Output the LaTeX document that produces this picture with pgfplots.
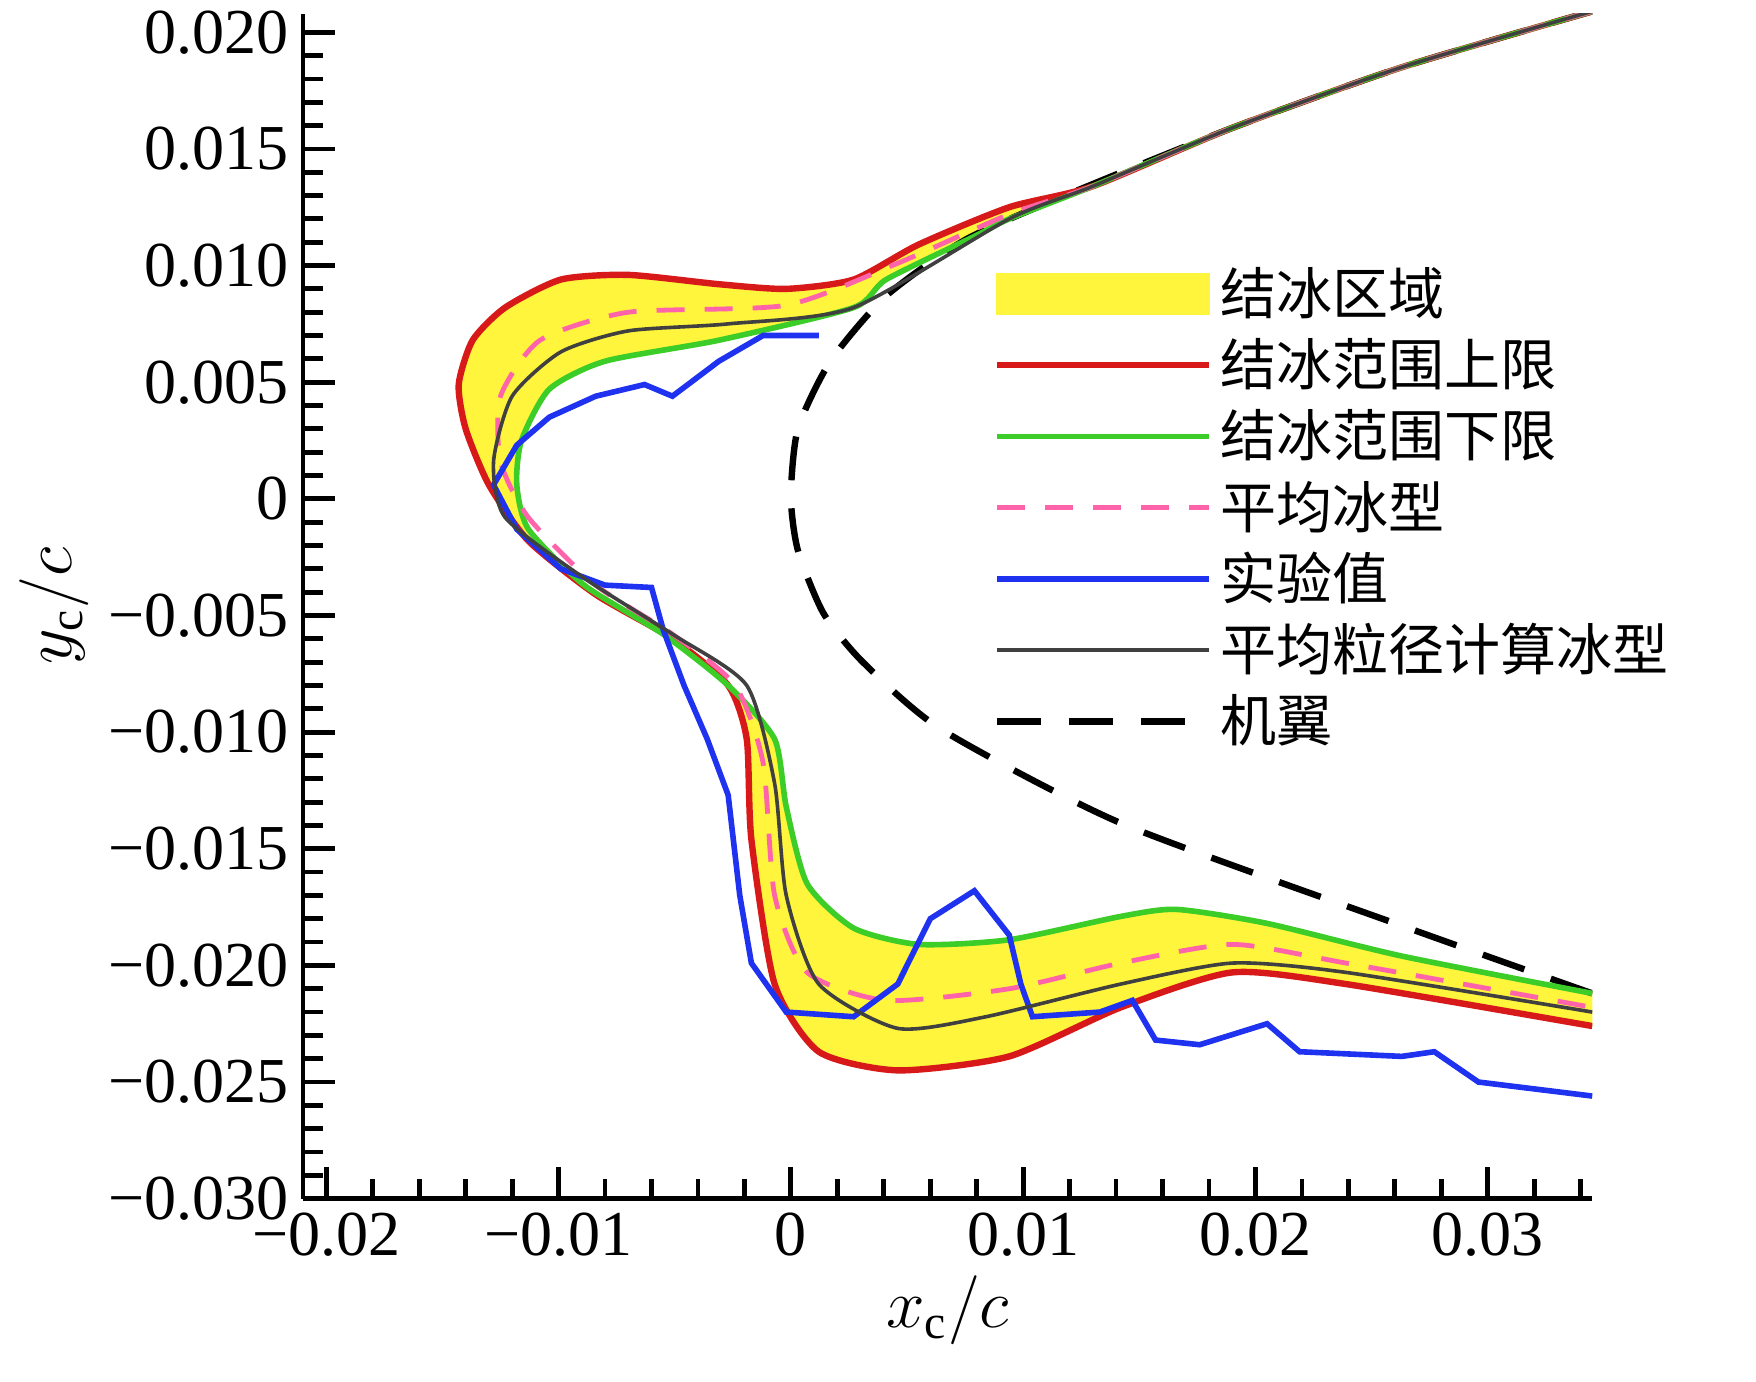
\documentclass[border=0pt]{standalone}
\usepackage{pgfplots}
\pgfplotsset{compat=1.18}
\usepgfplotslibrary{fillbetween}
\usepackage{fontspec}
\setmainfont{Liberation Serif}
\newfontfamily\cjk{Noto Sans CJK SC}
\definecolor{iceY}{RGB}{255,245,60}
\definecolor{upR}{RGB}{215,25,25}
\definecolor{loG}{RGB}{60,205,40}
\definecolor{meanP}{RGB}{255,100,170}
\definecolor{expB}{RGB}{30,50,240}
\begin{document}
\begin{tikzpicture}
\begin{axis}[name=ax,
  scale only axis, width=322pt, height=296pt,
  xmin=-0.021, xmax=0.0345, ymin=-0.030, ymax=0.0208,
  scaled x ticks=false, scaled y ticks=false,
  /pgf/number format/assume math mode=true,
  axis x line*=bottom, axis y line*=left, axis line style={line width=1.2pt,-},
  tick style={line width=1.2pt,black}, tick align=inside,
  major tick length=8pt, minor tick length=5pt,
  xtick={-0.02,-0.01,0,0.01,0.02,0.03},
  xticklabels={−0.02,−0.01,0,0.01,0.02,0.03},
  minor xtick={-0.018,-0.016,...,0.034},
  ytick={-0.030,-0.025,...,0.0201},
  yticklabels={−0.030,−0.025,−0.020,−0.015,−0.010,−0.005,0,0.005,0.010,0.015,0.020},
  minor ytick={-0.029,-0.028,...,0.0205},
  ticklabel style={font=\fontsize{16}{18}\selectfont},
  xlabel={\fontsize{17}{19}\selectfont$x_{\mathrm{c}}/c$},
  ylabel={\fontsize{17}{19}\selectfont$y_{\mathrm{c}}/c$},
  xlabel style={yshift=2pt}, ylabel style={yshift=-2pt},
  legend style={at={(rel axis cs:0.526,0.80)}, anchor=north west, draw=none, fill=none,
    font=\cjk\fontsize{14}{16}\selectfont, row sep=0.5pt, cells={anchor=west}},
  legend image code/.code={\draw[#1] (0pt,0pt) -- (53pt,0pt);},
  every axis plot/.append style={smooth, tension=0.4},
]
\addplot[black, line width=1.6pt, dash pattern=on 11pt off 7pt, forget plot] coordinates {
(0.0345,-0.0212)(0.0263,-0.0183)(0.0142,-0.0139)(0.0065,-0.0099)(0.0031,-0.0070)(0.0014,-0.0049)(0.0003,-0.0022)(0,0.0001)(0.0003,0.0030)(0.0017,0.0059)(0.0041,0.0087)(0.0075,0.0111)(0.0118,0.0130)(0.019,0.0159)(0.0263,0.0185)(0.0345,0.0209)};
\addplot[name path=up, draw=none, forget plot] coordinates {
(0.0345,0.0209)(0.0263,0.0185)(0.019,0.0159)(0.013,0.0134)(0.0094,0.0125)(0.0055,0.0109)(0.0027,0.0094)(-0.0002,0.009)(-0.0031,0.0092)(-0.007,0.0096)(-0.0099,0.0094)(-0.0123,0.0082)(-0.0137,0.0068)(-0.0143,0.0049)(-0.014,0.003)(-0.013,0.0006)(-0.0113,-0.0018)(-0.0084,-0.0041)(-0.0051,-0.006)(-0.0027,-0.008)(-0.0019,-0.0103)(-0.0017,-0.0146)(-0.0007,-0.0208)(0.0012,-0.0237)(0.0046,-0.0245)(0.0094,-0.0239)(0.0142,-0.0218)(0.019,-0.0203)(0.0239,-0.0208)(0.0345,-0.0226)};
\addplot[name path=lo, draw=none, forget plot] coordinates {
(0.0345,0.0209)(0.0263,0.0185)(0.019,0.0159)(0.013,0.0134)(0.0094,0.012)(0.008,0.0113)(0.0041,0.0094)(0.0027,0.0082)(-0.0031,0.0068)(-0.008,0.0059)(-0.0104,0.0047)(-0.0116,0.0025)(-0.0118,0.0006)(-0.0113,-0.0013)(-0.0089,-0.0037)(-0.0055,-0.0058)(-0.0027,-0.008)(-0.0007,-0.0103)(-0.0002,-0.0132)(0.0007,-0.0165)(0.0027,-0.0184)(0.0055,-0.0191)(0.0094,-0.0189)(0.0142,-0.0179)(0.0166,-0.0176)(0.0205,-0.0182)(0.0263,-0.0196)(0.0345,-0.0212)};
\addplot[iceY, forget plot] fill between[of=up and lo];
\addlegendimage{legend image code/.code={\fill[iceY] (0pt,-5pt) rectangle (53pt,5pt);}}
\addlegendentry{结冰区域}
\addplot[upR, line width=1.6pt] coordinates {
(0.0345,0.0209)(0.0263,0.0185)(0.019,0.0159)(0.013,0.0134)(0.0094,0.0125)(0.0055,0.0109)(0.0027,0.0094)(-0.0002,0.009)(-0.0031,0.0092)(-0.007,0.0096)(-0.0099,0.0094)(-0.0123,0.0082)(-0.0137,0.0068)(-0.0143,0.0049)(-0.014,0.003)(-0.013,0.0006)(-0.0113,-0.0018)(-0.0084,-0.0041)(-0.0051,-0.006)(-0.0027,-0.008)(-0.0019,-0.0103)(-0.0017,-0.0146)(-0.0007,-0.0208)(0.0012,-0.0237)(0.0046,-0.0245)(0.0094,-0.0239)(0.0142,-0.0218)(0.019,-0.0203)(0.0239,-0.0208)(0.0345,-0.0226)};
\addlegendentry{结冰范围上限}
\addplot[loG, line width=1.4pt] coordinates {
(0.0345,0.0209)(0.0263,0.0185)(0.019,0.0159)(0.013,0.0134)(0.0094,0.012)(0.008,0.0113)(0.0041,0.0094)(0.0027,0.0082)(-0.0031,0.0068)(-0.008,0.0059)(-0.0104,0.0047)(-0.0116,0.0025)(-0.0118,0.0006)(-0.0113,-0.0013)(-0.0089,-0.0037)(-0.0055,-0.0058)(-0.0027,-0.008)(-0.0007,-0.0103)(-0.0002,-0.0132)(0.0007,-0.0165)(0.0027,-0.0184)(0.0055,-0.0191)(0.0094,-0.0189)(0.0142,-0.0179)(0.0166,-0.0176)(0.0205,-0.0182)(0.0263,-0.0196)(0.0345,-0.0212)};
\addlegendentry{结冰范围下限}
\addplot[meanP, line width=1.2pt, dash pattern=on 7pt off 5pt] coordinates {
(0.0345,0.0209)(0.0263,0.0185)(0.019,0.0159)(0.013,0.0134)(0.0094,0.0122)(0.0046,0.0101)(-0.0002,0.0083)(-0.007,0.008)(-0.0108,0.0068)(-0.0125,0.0044)(-0.0125,0.0016)(-0.0113,-0.0008)(-0.0084,-0.0037)(-0.0051,-0.0058)(-0.0024,-0.008)(-0.0012,-0.0113)(-0.0007,-0.017)(0.0007,-0.0203)(0.0041,-0.0215)(0.0094,-0.021)(0.0142,-0.0199)(0.019,-0.0191)(0.0239,-0.0199)(0.0345,-0.0218)};
\addlegendentry{平均冰型}
\addplot[expB, line width=1.4pt, sharp plot] coordinates {
(0.0012,0.007)(-0.0012,0.0070)(-0.0031,0.0059)(-0.0051,0.0044)(-0.0063,0.0049)(-0.0084,0.0044)(-0.0104,0.0035)(-0.0118,0.0023)(-0.0128,0.0006)(-0.0118,-0.0013)(-0.0099,-0.003)(-0.008,-0.0037)(-0.006,-0.0038)(-0.0055,-0.0056)(-0.0046,-0.008)(-0.0036,-0.0103)(-0.0027,-0.0127)(-0.0022,-0.017)(-0.0017,-0.0199)(-0.0002,-0.022)(0.0027,-0.0222)(0.0046,-0.0208)(0.006,-0.018)(0.0079,-0.0168)(0.0094,-0.0187)(0.0099,-0.0208)(0.0104,-0.0222)(0.0133,-0.022)(0.0147,-0.0215)(0.0157,-0.0232)(0.0176,-0.0234)(0.0205,-0.0225)(0.0219,-0.0237)(0.0263,-0.0239)(0.0277,-0.0237)(0.0296,-0.025)(0.0345,-0.0256)};
\addlegendentry{实验值}
\addplot[black!75, line width=0.9pt] coordinates {
(0.0345,0.0209)(0.0263,0.0185)(0.019,0.0159)(0.013,0.0134)(0.0094,0.012)(0.0027,0.0082)(-0.0027,0.0075)(-0.007,0.0072)(-0.0099,0.0063)(-0.012,0.0044)(-0.0128,0.0016)(-0.0123,-0.0008)(-0.0089,-0.0034)(-0.0051,-0.0058)(-0.0019,-0.008)(-0.0007,-0.0122)(-0.0002,-0.017)(0.0012,-0.0208)(0.0046,-0.0227)(0.0084,-0.0222)(0.0142,-0.0208)(0.019,-0.0199)(0.0239,-0.0203)(0.0345,-0.022)};
\addlegendentry{平均粒径计算冰型}
\addlegendimage{black, line width=1.6pt, dash pattern=on 11pt off 7pt}
\addlegendentry{机翼}
\coordinate (bl) at (rel axis cs:0,0);
\coordinate (tr) at (rel axis cs:1,1);
\end{axis}
\pgfresetboundingbox
\path (bl) ++(-75.7pt,-45.7pt) rectangle (tr) ++(40.9pt,3.4pt);
\end{tikzpicture}
\end{document}
